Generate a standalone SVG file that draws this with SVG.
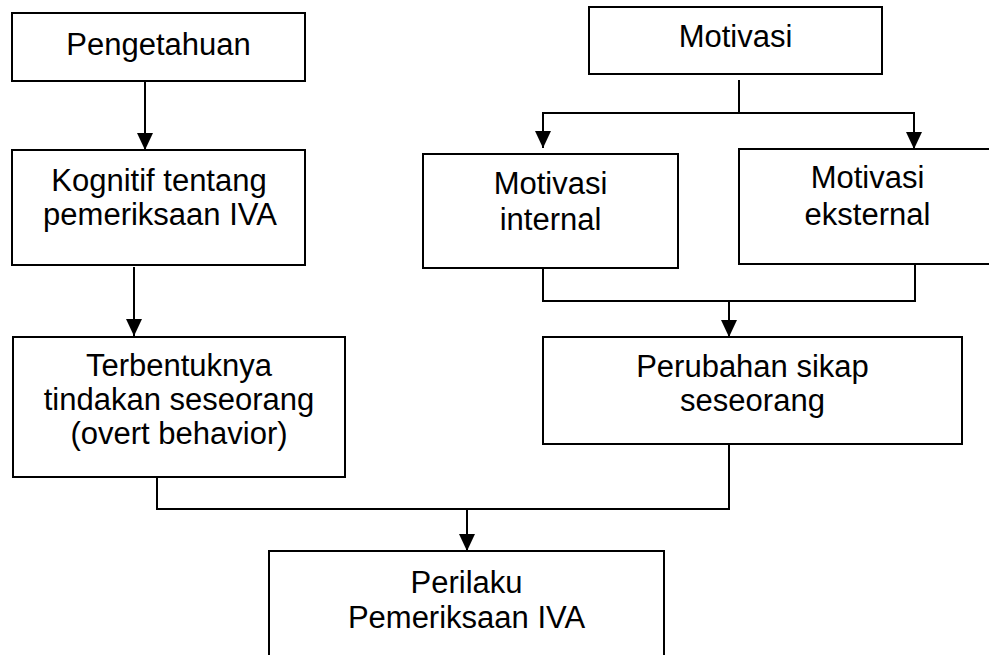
<svg xmlns="http://www.w3.org/2000/svg" width="989" height="655" viewBox="0 0 989 655">
<style>
.box{fill:#fff;stroke:#000;stroke-width:2}
.t{font-family:"Liberation Sans",Arial,sans-serif;font-size:31px;fill:#000;text-anchor:middle}
.c{fill:none;stroke:#000;stroke-width:2}
</style>
<defs>
<marker id="ah" markerUnits="userSpaceOnUse" markerWidth="17" markerHeight="17" viewBox="0 0 17 17" refX="17" refY="8.5" orient="auto">
<path d="M0,0.5 L17,8.5 L0,16.5 Z" fill="#000"/>
</marker>
</defs>
<rect width="989" height="655" fill="#fff"/>
<g id="connectors">
<line class="c" x1="145" y1="81" x2="145" y2="150" marker-end="url(#ah)"/>
<line class="c" x1="134" y1="267" x2="134" y2="336" marker-end="url(#ah)"/>
<polyline class="c" points="739,80 739,113"/>
<polyline class="c" points="543,113 914,113"/>
<line class="c" x1="543" y1="112" x2="543" y2="148" marker-end="url(#ah)"/>
<line class="c" x1="914" y1="112" x2="914" y2="149" marker-end="url(#ah)"/>
<polyline class="c" points="543,268 543,301 915,301 915,264"/>
<line class="c" x1="729" y1="301" x2="729" y2="337" marker-end="url(#ah)"/>
<polyline class="c" points="157,477 157,509 729,509 729,444"/>
<line class="c" x1="467" y1="509" x2="467" y2="551" marker-end="url(#ah)"/>
</g>
<g id="pengetahuan">
<rect class="box" x="12" y="13" width="293" height="68"/>
<text class="t" x="158.5" y="55">Pengetahuan</text>
</g>
<g id="kognitif">
<rect class="box" x="12" y="150" width="293" height="115"/>
<text class="t" x="159" y="191">Kognitif tentang</text>
<text class="t" x="160" y="225">pemeriksaan IVA</text>
</g>
<g id="terbentuknya">
<rect class="box" x="13" y="337" width="332" height="140"/>
<text class="t" x="179" y="376">Terbentuknya</text>
<text class="t" x="179" y="410">tindakan seseorang</text>
<text class="t" x="179" y="444">(overt behavior)</text>
</g>
<g id="motivasi">
<rect class="box" x="589" y="7" width="293" height="67"/>
<text class="t" x="735.5" y="47">Motivasi</text>
</g>
<g id="motivasi-internal">
<rect class="box" x="423" y="154" width="255" height="114"/>
<text class="t" x="550.5" y="194">Motivasi</text>
<text class="t" x="550.5" y="230">internal</text>
</g>
<g id="motivasi-eksternal">
<rect class="box" x="739" y="149" width="257" height="115"/>
<text class="t" x="867.5" y="188">Motivasi</text>
<text class="t" x="867.5" y="225">eksternal</text>
</g>
<g id="perubahan">
<rect class="box" x="543" y="337" width="419" height="107"/>
<text class="t" x="752.5" y="377">Perubahan sikap</text>
<text class="t" x="752.5" y="411">seseorang</text>
</g>
<g id="perilaku">
<rect class="box" x="269" y="551" width="395" height="130"/>
<text class="t" x="466.5" y="593">Perilaku</text>
<text class="t" x="466.5" y="628">Pemeriksaan IVA</text>
</g>
</svg>
